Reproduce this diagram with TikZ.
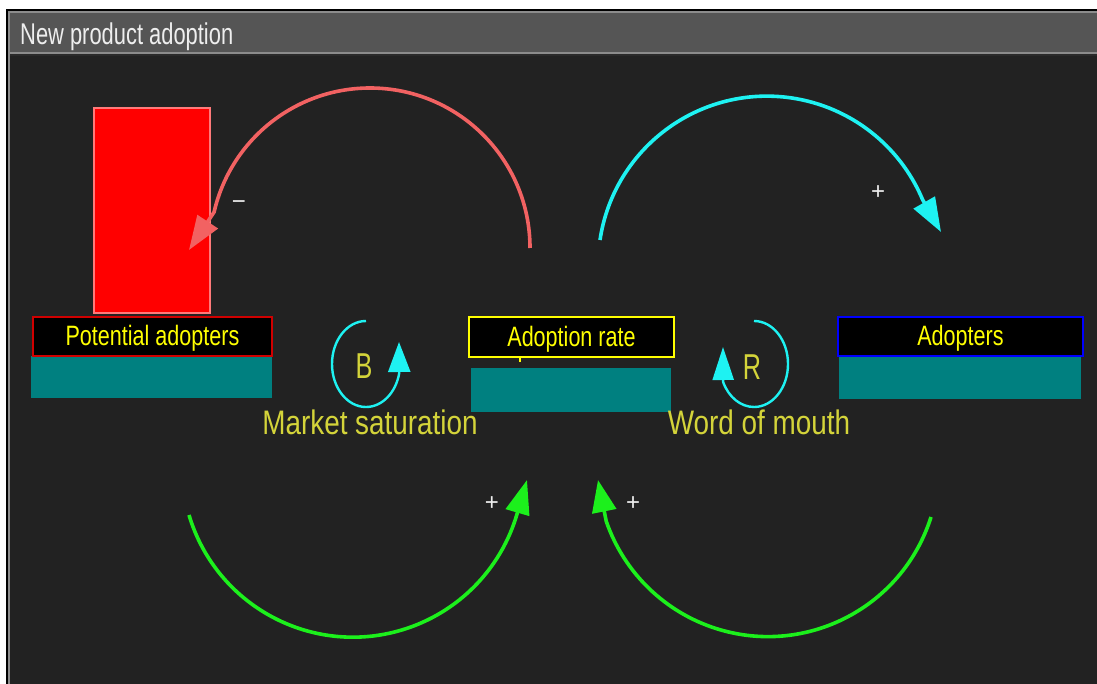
\documentclass[tikz,border=0pt]{standalone}
\usepackage{fontspec}
\setmainfont{Liberation Sans}
\newfontfamily\titlefont{Liberation Sans}[FakeStretch=0.73]
\newfontfamily\boxfont{Liberation Sans}[FakeStretch=0.77]
\newfontfamily\capfont{Liberation Sans}[FakeStretch=0.82]
\newfontfamily\loopfont{Liberation Sans}[FakeStretch=0.70]
\usetikzlibrary{arrows.meta}

\definecolor{panel}{HTML}{222222}
\definecolor{titlebar}{HTML}{555555}
\definecolor{bevel}{HTML}{8C8C8C}
\definecolor{tankteal}{HTML}{008080}
\definecolor{labelyellow}{HTML}{FFFF00}
\definecolor{loopyellow}{HTML}{D4D43A}
\definecolor{boxred}{HTML}{D00000}
\definecolor{boxblue}{HTML}{0000FF}
\definecolor{linkred}{HTML}{F26262}
\definecolor{linkcyan}{HTML}{1EF2F2}
\definecolor{linkgreen}{HTML}{1CF01C}
\definecolor{signwhite}{HTML}{EEEEEE}
\definecolor{levelborder}{HTML}{FF7A7A}

\tikzset{
  labelbox/.style={fill=black, line width=2pt, inner sep=0pt, outer sep=0pt,
    text=labelyellow, font=\boxfont\fontsize{28}{30}\selectfont,
    text height=20pt, text depth=2pt},
  tank/.style={fill=tankteal, draw=none, inner sep=0pt, outer sep=0pt},
  link/.style={line width=3.6pt},
  bigtip/.style={-{Triangle[length=34pt,width=24pt]}},
  loopline/.style={draw=linkcyan, line width=2.4pt},
  looptag/.style={text=loopyellow, font=\loopfont\fontsize{36}{38}\selectfont, inner sep=0pt},
  caption/.style={text=loopyellow, font=\capfont\fontsize{34}{36}\selectfont, inner sep=0pt, anchor=base},
  sign/.style={text=signwhite, font=\fontsize{24}{26}\selectfont, inner sep=0pt}
}

\begin{document}
\begin{tikzpicture}[x=1pt,y=-1pt]
\useasboundingbox (0,0) rectangle (1097,684);

% window frame and title bar
\fill[white] (0,0) rectangle (1097,684);
\fill[black] (6,9) rectangle (1097,684);
\fill[bevel] (7.5,11) rectangle (1097,684);
\fill[titlebar] (10,13.5) rectangle (1097,52);
\fill[black!70!bevel] (10,54.5) rectangle (1097,56);
\fill[panel] (10,56) rectangle (1097,684);
\node[anchor=base west, inner sep=0pt, text=signwhite,
      font=\titlefont\fontsize{30}{32}\selectfont] (title) at (20,45) {New product adoption};

% stock level of potential adopters
\node[fill=red, draw=levelborder, line width=1.5pt, inner sep=0pt,
      minimum width=116pt, minimum height=205pt] (level) at (152,210.5) {};

% stocks and flow
\node[tank, minimum width=241pt, minimum height=42pt] (potTank) at (151.5,377) {};
\node[labelbox, draw=boxred, minimum width=239pt, minimum height=39pt] (pot) at (152.5,336.5) {Potential adopters};

\node[tank, minimum width=200pt, minimum height=44pt] (rateTank) at (571,390) {};
\node[labelbox, draw=labelyellow, minimum width=205pt, minimum height=40pt] (rate) at (571.5,337) {Adoption rate};
\draw[labelyellow, line width=1.5pt] ([xshift=-51.5pt]rate.south) -- ++(0,5);

\node[tank, minimum width=242pt, minimum height=42pt] (adoTank) at (960,377.5) {};
\node[labelbox, draw=boxblue, minimum width=245pt, minimum height=39pt] (ado) at (960.5,336.5) {Adopters};

% feedback links
\coordinate (redStart) at (530,248);
\coordinate (redTip) at (189,250);
\draw[link, linkred, bigtip] (redStart) arc[start angle=0, end angle=-167, radius=160] -- (redTip);

\coordinate (cyanStart) at (600,240);
\coordinate (cyanTip) at (941,232);
\draw[link, linkcyan, bigtip] (cyanStart) arc[start angle=-171.5, end angle=-22.8, radius=168.8] -- (cyanTip);

\coordinate (greenLStart) at (189,515);
\coordinate (greenLTip) at (527,480);
\draw[link, linkgreen, bigtip] (greenLStart) arc[start angle=163.4, end angle=16, radius=171] -- (greenLTip);

\coordinate (greenRStart) at (931,517);
\coordinate (greenRTip) at (598,480);
\draw[link, linkgreen, -{Triangle[length=32pt,width=24pt]}] (greenRStart) arc[start angle=17.5, end angle=161, radius=171] -- (greenRTip);

% polarity signs
\node[sign] (signRed) at (239,205) {−};
\node[sign] (signCyan) at (878,193) {+};
\node[sign] (signGreenL) at (492,504) {+};
\node[sign] (signGreenR) at (633,504) {+};

% loop markers
\coordinate (bTop) at (366,321);
\coordinate (bTip) at (399,342);
\draw[loopline, -{Triangle[length=30pt,width=22pt]}] (bTop) arc[start angle=-90, end angle=-348, x radius=34, y radius=43] -- (bTip);
\node[looptag] (bTag) at (364,366.5) {B};

\coordinate (rTop) at (754,321);
\coordinate (rTip) at (723,347);
\draw[loopline, -{Triangle[length=33pt,width=21pt]}] (rTop) arc[start angle=-90, end angle=155, x radius=34, y radius=43] -- (rTip);
\node[looptag] (rTag) at (752,367) {R};

\node[caption] (satCap) at (370,434) {Market saturation};
\node[caption] (womCap) at (759,434) {Word of mouth};
\end{tikzpicture}
\end{document}
